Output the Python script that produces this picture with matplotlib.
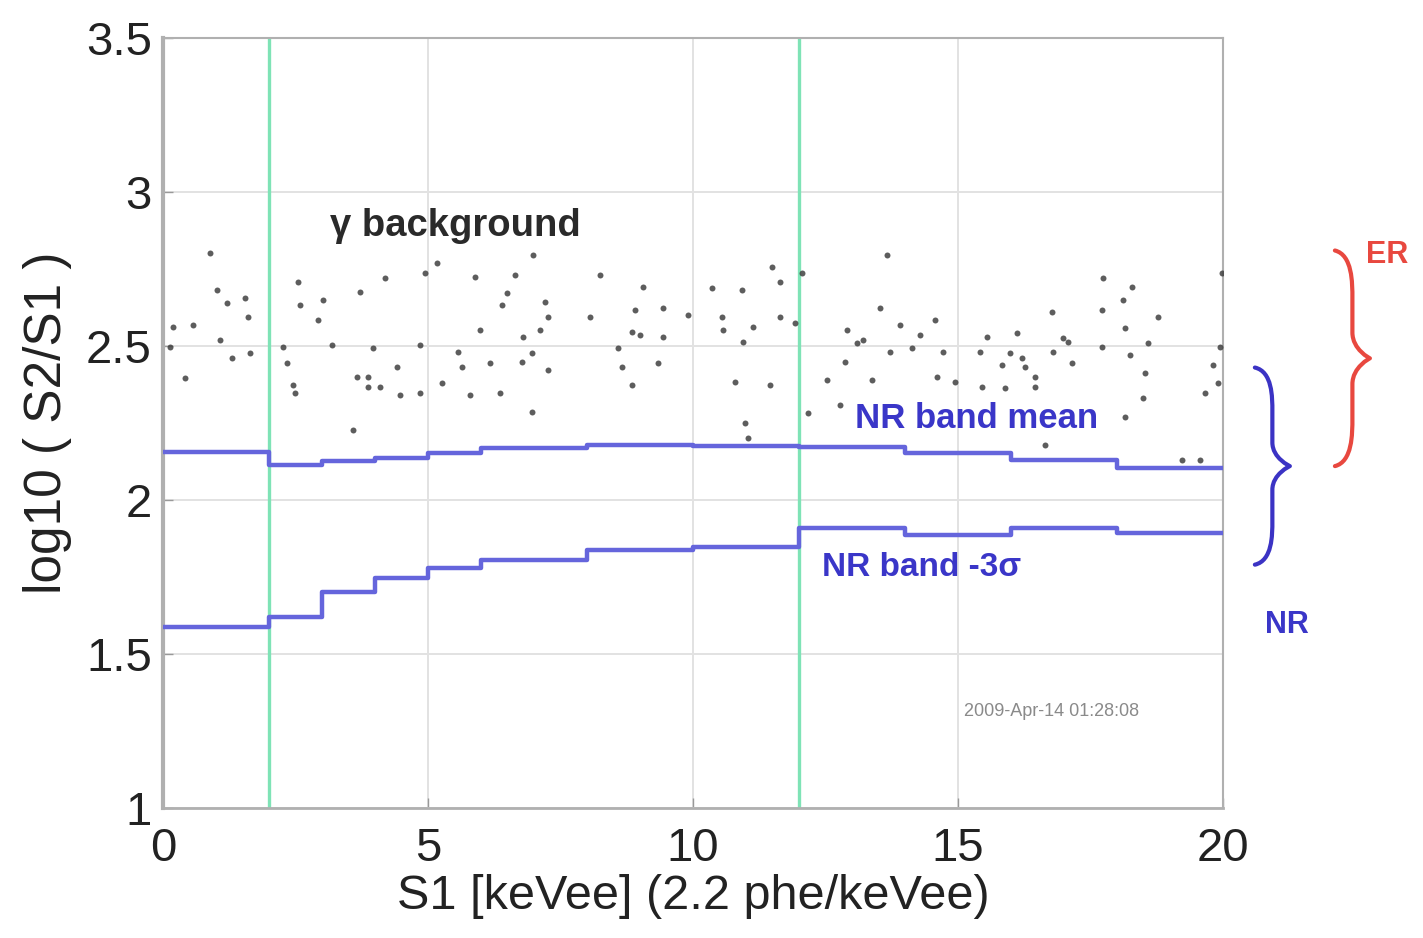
import numpy as np
import matplotlib
matplotlib.use('Agg')
import matplotlib.pyplot as plt
from matplotlib.path import Path
from matplotlib.patches import PathPatch

plt.rcParams['font.family'] = ['Liberation Sans', 'DejaVu Sans']

# S1 bin edges and NR band levels per bin
bin_edges = [0, 2, 3, 4, 5, 6, 8, 10, 12, 14, 16, 18, 20]
nr_mean = [2.156, 2.114, 2.127, 2.136, 2.153, 2.169, 2.178, 2.175, 2.172, 2.153, 2.130, 2.104]
nr_minus3sig = [1.588, 1.620, 1.700, 1.747, 1.780, 1.805, 1.838, 1.848, 1.909, 1.886, 1.909, 1.893]

# analysis window boundaries
window_s1 = [2, 12]

# gamma background events
gamma_s1 = [0.887, 1.019, 1.208, 1.547, 1.604, 0.189, 0.566, 0.132, 1.075, 1.302, 1.642, 0.415,
            2.547, 2.585, 3.019, 2.925, 2.264, 2.340, 2.453, 2.491, 3.189, 3.717, 4.189, 4.943,
            3.962, 4.849, 4.415, 3.660, 3.868, 3.868, 4.094, 4.472, 4.849, 3.585, 5.170, 5.887,
            6.642, 6.981, 6.491, 6.396, 7.208, 7.264, 5.981, 7.113, 6.792, 5.566, 5.642, 6.170,
            6.774, 6.962, 7.264, 5.264, 5.792, 6.358, 6.962, 8.245, 9.057, 8.906, 9.434, 9.906,
            8.057, 8.849, 9.000, 9.434, 8.585, 8.660, 8.849, 9.340, 11.491, 11.642, 12.057, 10.358,
            10.925, 10.547, 10.566, 11.132, 11.642, 11.925, 10.943, 10.792, 11.453, 10.981, 13.660, 13.528,
            12.906, 13.094, 13.208, 13.906, 14.283, 14.566, 13.717, 14.132, 14.717, 12.868, 12.528, 13.377,
            14.604, 14.943, 12.774, 12.170, 11.038, 17.736, 18.283, 18.113, 17.717, 16.774, 18.774, 18.151,
            15.547, 16.113, 16.981, 17.075, 15.415, 15.981, 16.792, 17.717, 18.585, 15.830, 16.208, 16.264,
            16.453, 17.151, 18.245, 18.528, 15.453, 15.887, 16.453, 18.491, 18.151, 19.660, 19.811, 19.906,
            19.981, 19.943, 16.642, 19.226, 19.566]
gamma_ratio = [2.802, 2.682, 2.640, 2.656, 2.594, 2.562, 2.568, 2.497, 2.519, 2.461, 2.477, 2.396,
               2.708, 2.633, 2.649, 2.584, 2.497, 2.445, 2.373, 2.347, 2.503, 2.675, 2.721, 2.737,
               2.494, 2.503, 2.432, 2.399, 2.399, 2.367, 2.367, 2.341, 2.347, 2.227, 2.769, 2.724,
               2.731, 2.795, 2.672, 2.633, 2.643, 2.594, 2.552, 2.552, 2.529, 2.481, 2.432, 2.445,
               2.448, 2.477, 2.422, 2.380, 2.341, 2.347, 2.286, 2.731, 2.692, 2.617, 2.623, 2.601,
               2.594, 2.545, 2.536, 2.529, 2.494, 2.432, 2.373, 2.445, 2.756, 2.708, 2.737, 2.688,
               2.682, 2.594, 2.552, 2.562, 2.594, 2.575, 2.513, 2.383, 2.373, 2.250, 2.795, 2.623,
               2.552, 2.510, 2.519, 2.568, 2.536, 2.584, 2.481, 2.494, 2.481, 2.448, 2.390, 2.390,
               2.399, 2.383, 2.308, 2.282, 2.201, 2.721, 2.692, 2.649, 2.617, 2.610, 2.594, 2.558,
               2.529, 2.542, 2.526, 2.513, 2.481, 2.477, 2.481, 2.497, 2.510, 2.438, 2.461, 2.432,
               2.399, 2.445, 2.471, 2.412, 2.367, 2.364, 2.367, 2.331, 2.269, 2.347, 2.438, 2.380,
               2.737, 2.497, 2.179, 2.130, 2.130]

x_ticks = [0, 5, 10, 15, 20]
y_ticks = [1, 1.5, 2, 2.5, 3, 3.5]
y_ticklabels = ['1', '1.5', '2', '2.5', '3', '3.5']

line_blue = '#6565dc'
text_blue = '#3a36c8'
er_red = '#e8483f'


def brace(ax, x0, y_lo, y_hi, width, color, lw=3):
    """curly brace opening to the left, tip pointing right (data coords)"""
    ym = 0.5 * (y_lo + y_hi)
    h = y_hi - y_lo
    xb = x0 + 0.5 * width
    verts = [
        (x0, y_hi),
        (xb, y_hi - 0.02 * h), (xb, y_hi - 0.15 * h), (xb, y_hi - 0.22 * h),
        (xb, ym + 0.12 * h),
        (xb, ym + 0.04 * h), (x0 + width, ym), (x0 + width, ym),
        (x0 + width, ym), (xb, ym - 0.04 * h), (xb, ym - 0.12 * h),
        (xb, y_lo + 0.22 * h),
        (xb, y_lo + 0.15 * h), (xb, y_lo + 0.02 * h), (x0, y_lo),
    ]
    codes = [Path.MOVETO,
             Path.CURVE4, Path.CURVE4, Path.CURVE4,
             Path.LINETO,
             Path.CURVE4, Path.CURVE4, Path.CURVE4,
             Path.CURVE4, Path.CURVE4, Path.CURVE4,
             Path.LINETO,
             Path.CURVE4, Path.CURVE4, Path.CURVE4]
    p = PathPatch(Path(verts, codes), facecolor='none', edgecolor=color,
                  lw=lw, clip_on=False, capstyle='round', joinstyle='round')
    ax.add_patch(p)


fig = plt.figure(figsize=(14.23, 9.38), dpi=100)
ax = fig.add_axes([0.1145, 0.1386, 0.745, 0.8209])

ax.set_xlim(0, 20)
ax.set_ylim(1, 3.5)
ax.set_xticks(x_ticks)
ax.set_yticks(y_ticks)
ax.set_yticklabels(y_ticklabels)
ax.grid(True, color='#e2e2e2', lw=1.4, ls='-')
ax.set_axisbelow(True)

for s in ax.spines.values():
    s.set_color('#b0b0b0')
    s.set_linewidth(1.5)
ax.spines['left'].set_linewidth(3)
ax.spines['bottom'].set_linewidth(2)
ax.tick_params(direction='in', length=7, width=1, color='#999999',
               labelsize=34, labelcolor='#222222')
ax.tick_params(axis='x', pad=14)
ax.tick_params(axis='y', pad=8)

# window boundaries
for xv in window_s1:
    ax.axvline(xv, color='#7fe3b6', lw=2.4, zorder=2)

# events
ax.plot(gamma_s1, gamma_ratio, ls='none', marker='o', ms=4.3,
        color='#404040', mec='none', alpha=0.85, zorder=3)

# NR band lines
ax.step(bin_edges, nr_mean + [nr_mean[-1]], where='post', color=line_blue, lw=3.2, zorder=4)
ax.step(bin_edges, nr_minus3sig + [nr_minus3sig[-1]], where='post', color=line_blue, lw=3.2, zorder=4)

ax.set_xlabel('S1 [keVee] (2.2 phe/keVee)', fontsize=35, color='#222222', labelpad=2)
ax.set_ylabel('log10 ( S2/S1 )', fontsize=37, color='#222222', labelpad=10)

ax.text(3.15, 2.89, 'γ background', fontsize=27.5, fontweight='bold',
        color='#2a2a2a', ha='left', va='center')
ax.text(13.06, 2.266, 'NR band mean', fontsize=25, fontweight='bold',
        color=text_blue, ha='left', va='center')
ax.text(12.43, 1.782, 'NR band -3σ', fontsize=24, fontweight='bold',
        color=text_blue, ha='left', va='center')
ax.text(16.77, 1.312, '2009-Apr-14 01:28:08', fontsize=13,
        color='#8a8a8a', ha='center', va='center')

# ER / NR region markers
brace(ax, 20.6, 1.79, 2.43, 0.66, '#3b33c4')
brace(ax, 22.11, 2.11, 2.81, 0.66, er_red)
ax.text(23.1, 2.795, 'ER', fontsize=22, fontweight='bold', color=er_red,
        ha='center', va='center', clip_on=False)
ax.text(21.2, 1.594, 'NR', fontsize=22, fontweight='bold', color=text_blue,
        ha='center', va='center', clip_on=False)

fig.savefig('out.png', dpi=100)
